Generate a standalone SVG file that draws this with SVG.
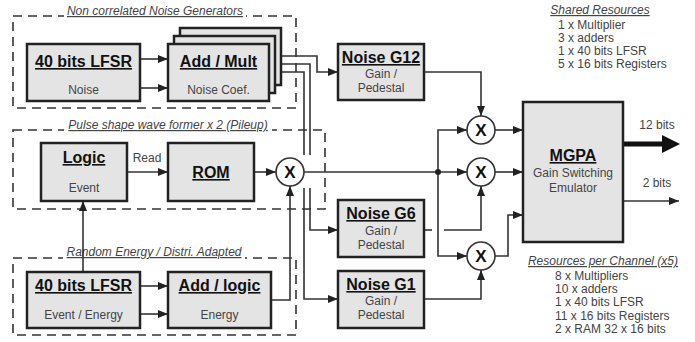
<svg xmlns="http://www.w3.org/2000/svg" width="695" height="342" viewBox="0 0 695 342">
<style>
text{font-family:"Liberation Sans",Arial,sans-serif}
.box{fill:#e4e4e4;stroke:#222;stroke-width:2.5}
.grp{fill:none;stroke:#333;stroke-width:1.6;stroke-dasharray:9 6}
.mask{fill:#fff}
.t{font-size:16px;font-weight:bold;fill:#111;text-anchor:middle;text-decoration:underline}
.s{font-size:12px;fill:#444;text-anchor:middle}
.it{font-size:12px;font-style:italic;fill:#444;text-anchor:middle;text-decoration:underline}
.r{font-size:12px;fill:#444}
.w{fill:none;stroke:#333;stroke-width:1.6}
.a{marker-end:url(#arr)}
.mul{fill:#fff;stroke:#333;stroke-width:1.6}
.x{font-size:17px;font-weight:bold;fill:#111;text-anchor:middle}
</style>
<defs>
<marker id="arr" markerUnits="userSpaceOnUse" markerWidth="10" markerHeight="10" viewBox="0 0 10 10" refX="10" refY="5" orient="auto">
<path d="M0,1 L10,5 L0,9 Z" fill="#222"/>
</marker>
</defs>
<rect width="695" height="342" fill="#fff"/>

<g id="grp-noise">
<rect class="grp" x="13" y="16" width="283" height="92"/>
<rect class="mask" x="64" y="3" width="182" height="15"/>
<text class="it" x="155" y="15">Non correlated Noise Generators</text>
</g>
<g id="grp-pulse">
<rect class="grp" x="13" y="130" width="312" height="79"/>
<rect class="mask" x="64" y="117" width="208" height="15"/>
<text class="it" x="168" y="129">Pulse shape wave former x 2 (Pileup)</text>
</g>
<g id="grp-random">
<rect class="grp" x="13" y="258" width="283" height="77"/>
<rect class="mask" x="63" y="245" width="182" height="15"/>
<text class="it" x="154" y="256">Random Energy / Distri. Adapted</text>
</g>

<g id="connectors">
<path class="w a" d="M140,59 H168"/>
<path class="w a" d="M140,88 H168"/>
<path class="w a" d="M269,56 H317 V72 H338"/>
<path class="w" d="M269,64 H310 V155"/>
<path class="w a" d="M310,188 V230 H338"/>
<path class="w" d="M269,72 H304 V155"/>
<path class="w a" d="M304,188 V299 H338"/>
<path class="w a" d="M127,172 H168"/>
<path class="w a" d="M254,172 H276"/>
<path class="w a" d="M271,300 H290 V186"/>
<path class="w a" d="M83,272 V201"/>
<path class="w a" d="M140,286 H168"/>
<path class="w a" d="M140,314 H168"/>
<path class="w a" d="M304,172 H467"/>
<path class="w a" d="M438,172 V130 H467"/>
<path class="w a" d="M438,172 V256 H467"/>
<circle cx="438" cy="172" r="3" fill="#222"/>
<path class="w a" d="M424,72 H481 V116"/>
<path class="w" d="M424,230 H432"/>
<path class="w a" d="M444,230 H481 V186"/>
<path class="w a" d="M424,299 H481 V270"/>
<path class="w a" d="M495,130 H523"/>
<path class="w a" d="M495,172 H523"/>
<path class="w a" d="M495,256 H508 V215 H523"/>
<path d="M623,144 H664" stroke="#111" stroke-width="5" fill="none"/>
<path d="M662,135 L680,144 L662,153 Z" fill="#111"/>
<path class="w a" d="M623,201 H679"/>
<text class="s" x="147" y="162">Read</text>
<text class="s" x="657" y="129">12 bits</text>
<text class="s" x="657" y="187">2 bits</text>
</g>

<g id="lfsr-noise">
<rect class="box" x="27" y="44" width="113" height="57"/>
<text class="t" x="83.5" y="67">40 bits LFSR</text>
<text class="s" x="83.5" y="94">Noise</text>
</g>
<g id="addmult">
<rect class="box" x="180" y="28" width="101" height="57"/>
<rect class="box" x="174" y="36" width="101" height="57"/>
<rect class="box" x="168" y="44" width="101" height="57"/>
<text class="t" x="218.5" y="67">Add / Mult</text>
<text class="s" x="218.5" y="94">Noise Coef.</text>
</g>
<g id="logic">
<rect class="box" x="41" y="143" width="86" height="58"/>
<text class="t" x="84" y="163">Logic</text>
<text class="s" x="84" y="192">Event</text>
</g>
<g id="rom">
<rect class="box" x="168" y="143" width="86" height="58"/>
<text class="t" x="211" y="178">ROM</text>
</g>
<g id="mul0">
<circle class="mul" cx="290" cy="172" r="14"/>
<text class="x" x="290" y="178">X</text>
</g>
<g id="lfsr-energy">
<rect class="box" x="27" y="272" width="113" height="56"/>
<text class="t" x="83.5" y="291">40 bits LFSR</text>
<text class="s" x="83.5" y="319">Event / Energy</text>
</g>
<g id="addlogic">
<rect class="box" x="168" y="272" width="103" height="56"/>
<text class="t" x="219.5" y="291">Add / logic</text>
<text class="s" x="219.5" y="319">Energy</text>
</g>
<g id="g12">
<rect class="box" x="338" y="44" width="86" height="56"/>
<text class="t" x="381" y="63">Noise G12</text>
<text class="s" x="381" y="78">Gain /</text>
<text class="s" x="381" y="92">Pedestal</text>
</g>
<g id="g6">
<rect class="box" x="338" y="200" width="86" height="57"/>
<text class="t" x="381" y="219">Noise G6</text>
<text class="s" x="381" y="235">Gain /</text>
<text class="s" x="381" y="249">Pedestal</text>
</g>
<g id="g1">
<rect class="box" x="338" y="271" width="86" height="57"/>
<text class="t" x="381" y="290">Noise G1</text>
<text class="s" x="381" y="305">Gain /</text>
<text class="s" x="381" y="319">Pedestal</text>
</g>
<g id="mul1">
<circle class="mul" cx="481" cy="130" r="14"/>
<text class="x" x="481" y="136">X</text>
</g>
<g id="mul2">
<circle class="mul" cx="481" cy="172" r="14"/>
<text class="x" x="481" y="178">X</text>
</g>
<g id="mul3">
<circle class="mul" cx="481" cy="256" r="14"/>
<text class="x" x="481" y="262">X</text>
</g>
<g id="mgpa">
<rect class="box" x="523" y="102" width="100" height="140"/>
<text class="t" x="573" y="161">MGPA</text>
<text class="s" x="573" y="177">Gain Switching</text>
<text class="s" x="573" y="192">Emulator</text>
</g>
<g id="shared">
<text class="it" x="600" y="14">Shared Resources</text>
<text class="r" x="558" y="29">1 x Multiplier</text>
<text class="r" x="558" y="42">3 x adders</text>
<text class="r" x="558" y="55">1 x 40 bits LFSR</text>
<text class="r" x="558" y="68">5 x 16 bits Registers</text>
</g>
<g id="perchannel">
<text class="it" x="603" y="265">Resources per Channel (x5)</text>
<text class="r" x="555" y="280">8 x Multipliers</text>
<text class="r" x="555" y="293">10 x adders</text>
<text class="r" x="555" y="306">1 x 40 bits LFSR</text>
<text class="r" x="555" y="320">11 x 16 bits Registers</text>
<text class="r" x="555" y="333">2 x RAM 32 x 16 bits</text>
</g>
</svg>
